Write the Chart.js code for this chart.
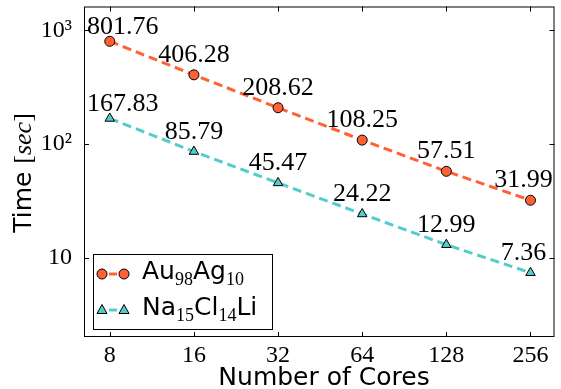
<!DOCTYPE html>
<html>
<head>
<meta charset="utf-8">
<script src="https://cdn.jsdelivr.net/npm/chart.js@4"></script>
<style>
    html, body { margin: 0; padding: 0; background: #fff; }
    #wrap { width: 561px; height: 389px; }
</style>
</head>
<body>
<div id="wrap"><canvas id="timeChart"></canvas></div>
<script>
// data
const cores = [8, 16, 32, 64, 128, 256];
const auAgTimes = [801.76, 406.28, 208.62, 108.25, 57.51, 31.99];
const naClLiTimes = [167.83, 85.79, 45.47, 24.22, 12.99, 7.36];
const xTicks = [8, 16, 32, 64, 128, 256];
const xTickLabels = ['8', '16', '32', '64', '128', '256'];
const yTicks = [10, 100, 1000];
const yTickLabels = ['10', '10²', '10³'];

const AU_COLOR = '#ff6135';
const NA_COLOR = '#55cccc';
const SERIF = '"Liberation Serif", "DejaVu Serif", serif';
const SANS = '"DejaVu Sans", sans-serif';

// legend text pieces: [text, isSubscript]
const legendItems = [
    { parts: [['Au', 0], ['98', 1], ['Ag', 0], ['10', 1]], color: AU_COLOR, style: 'circle' },
    { parts: [['Na', 0], ['15', 1], ['Cl', 0], ['14', 1], ['Li', 0]], color: NA_COLOR, style: 'triangle' }
];

function drawMarker(ctx, style, color, x, y) {
    ctx.save();
    ctx.fillStyle = color;
    ctx.strokeStyle = '#000';
    ctx.lineWidth = 1;
    ctx.setLineDash([]);
    ctx.beginPath();
    if (style === 'circle') {
        ctx.arc(x, y, 5, 0, Math.PI * 2);
    } else {
        ctx.moveTo(x, y - 5.5);
        ctx.lineTo(x + 5, y + 3.5);
        ctx.lineTo(x - 5, y + 3.5);
        ctx.closePath();
    }
    ctx.fill();
    ctx.stroke();
    ctx.restore();
}

// value labels above each point
const pointLabels = {
    id: 'pointLabels',
    afterDatasetsDraw(chart) {
        const ctx = chart.ctx;
        ctx.save();
        ctx.font = '26px ' + SERIF;
        ctx.fillStyle = '#000';
        ctx.textAlign = 'center';
        ctx.textBaseline = 'alphabetic';
        chart.data.datasets.forEach((ds, di) => {
            const pts = chart.getDatasetMeta(di).data;
            pts.forEach((pt, i) => {
                const last = i === pts.length - 1;
                const dx = i === 0 ? 13 : (last ? -7 : 0);
                const dy = i === 0 ? 7 : 13;
                ctx.fillText(ds.data[i].y.toFixed(2), pt.x + dx, pt.y - dy);
            });
        });
        ctx.restore();
    }
};

// frame, inward ticks, axis titles, legend
const decorations = {
    id: 'decorations',
    afterDraw(chart) {
        const ctx = chart.ctx;
        const a = chart.chartArea;
        const xs = chart.scales.x, ys = chart.scales.y;
        ctx.save();
        ctx.strokeStyle = '#000';
        ctx.lineWidth = 1;
        ctx.setLineDash([]);
        ctx.strokeRect(a.left + 0.5, a.top + 0.5, a.right - a.left - 1, a.bottom - a.top - 1);

        ctx.beginPath();
        xTicks.forEach(v => {
            const px = Math.round(xs.getPixelForValue(v)) + 0.5;
            ctx.moveTo(px, a.bottom); ctx.lineTo(px, a.bottom - 5);
            ctx.moveTo(px, a.top); ctx.lineTo(px, a.top + 5);
        });
        yTicks.forEach(v => {
            const py = Math.round(ys.getPixelForValue(v)) + 0.5;
            ctx.moveTo(a.left, py); ctx.lineTo(a.left + 5, py);
            ctx.moveTo(a.right, py); ctx.lineTo(a.right - 5, py);
        });
        ctx.stroke();

        // x title
        ctx.fillStyle = '#000';
        ctx.font = '25px ' + SANS;
        ctx.textAlign = 'center';
        ctx.textBaseline = 'alphabetic';
        ctx.fillText('Number of Cores', 324, 385);

        // y title, rotated
        const yParts = [['Time ', '25px ' + SANS], ['[', '26px ' + SERIF], ['sec', 'italic 26px ' + SERIF], [']', '26px ' + SERIF]];
        let total = 0;
        yParts.forEach(p => { ctx.font = p[1]; total += ctx.measureText(p[0]).width; });
        ctx.translate(31, 173);
        ctx.rotate(-Math.PI / 2);
        ctx.textAlign = 'left';
        let cx = -total / 2;
        yParts.forEach(p => {
            ctx.font = p[1];
            ctx.fillText(p[0], cx, 0);
            cx += ctx.measureText(p[0]).width;
        });
        ctx.setTransform(1, 0, 0, 1, 0, 0);

        // legend
        ctx.fillStyle = '#fff';
        ctx.fillRect(93, 254, 179, 75);
        ctx.strokeRect(93.5, 254.5, 179, 75);
        legendItems.forEach((item, i) => {
            const y = 274 + i * 36;
            ctx.strokeStyle = item.color;
            ctx.lineWidth = 3;
            ctx.beginPath();
            ctx.moveTo(109, y); ctx.lineTo(117, y);
            ctx.stroke();
            drawMarker(ctx, item.style, item.color, 102, y);
            drawMarker(ctx, item.style, item.color, 124, y);
            ctx.fillStyle = '#000';
            ctx.textAlign = 'left';
            let tx = 142;
            item.parts.forEach(([t, sub]) => {
                ctx.font = sub ? '18px ' + SERIF : '25px ' + SANS;
                ctx.fillText(t, tx, y + (sub ? 11 : 5));
                tx += ctx.measureText(t).width;
            });
        });
        ctx.restore();
    }
};

const ctx = document.getElementById('timeChart').getContext('2d');
new Chart(ctx, {
    type: 'line',
    data: {
        datasets: [
            {
                label: 'Au98Ag10',
                data: cores.map((c, i) => ({ x: c, y: auAgTimes[i] })),
                borderColor: AU_COLOR,
                backgroundColor: AU_COLOR,
                borderWidth: 3,
                borderDash: [9, 5],
                pointStyle: 'circle',
                pointRadius: 5,
                pointBorderColor: '#000',
                pointBorderWidth: 1,
                pointBackgroundColor: AU_COLOR,
                fill: false,
                tension: 0
            },
            {
                label: 'Na15Cl14Li',
                data: cores.map((c, i) => ({ x: c, y: naClLiTimes[i] })),
                borderColor: NA_COLOR,
                backgroundColor: NA_COLOR,
                borderWidth: 3,
                borderDash: [9, 5],
                pointStyle: 'triangle',
                pointRadius: 5.5,
                pointBorderColor: '#000',
                pointBorderWidth: 1,
                pointBackgroundColor: NA_COLOR,
                fill: false,
                tension: 0
            }
        ]
    },
    options: {
        responsive: true,
        maintainAspectRatio: false,
        animation: false,
        devicePixelRatio: 1,
        layout: { padding: { top: 5, right: 1, left: 0, bottom: 0 } },
        plugins: {
            legend: { display: false },
            tooltip: { enabled: false }
        },
        scales: {
            x: {
                type: 'logarithmic',
                min: 6.47,
                max: 312,
                grid: { display: false },
                border: { display: false },
                afterBuildTicks: s => { s.ticks = xTicks.map(v => ({ value: v })); },
                afterFit: s => {
                    s.height = 52;
                    s.paddingLeft = 0;
                    s.paddingRight = 0;
                },
                ticks: {
                    autoSkip: false,
                    maxRotation: 0,
                    padding: -4,
                    color: '#000',
                    font: { family: SERIF, size: 24 },
                    callback: v => xTickLabels[xTicks.indexOf(v)] || ''
                }
            },
            y: {
                type: 'logarithmic',
                min: 2,
                max: 1624,
                grid: { display: false },
                border: { display: false },
                afterBuildTicks: s => { s.ticks = yTicks.map(v => ({ value: v })); },
                afterFit: s => {
                    s.width = 84;
                    s.paddingTop = 0;
                    s.paddingBottom = 0;
                },
                ticks: {
                    autoSkip: false,
                    padding: 4,
                    color: '#000',
                    font: { family: SERIF, size: 24 },
                    callback: v => yTickLabels[yTicks.indexOf(v)] || ''
                }
            }
        }
    },
    plugins: [pointLabels, decorations]
});
</script>
</body>
</html>
